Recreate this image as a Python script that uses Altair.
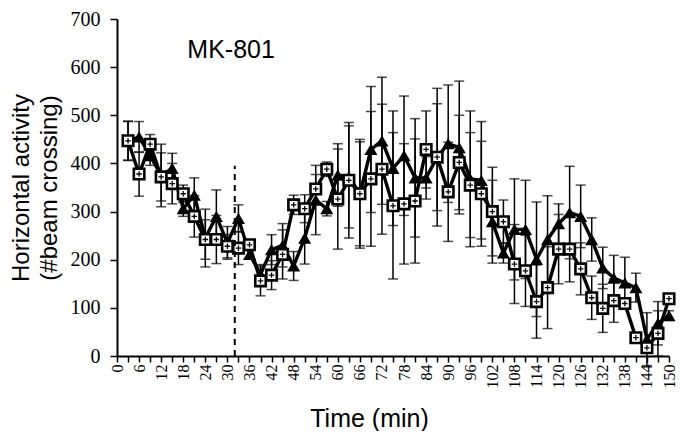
import altair as alt
import pandas as pd

times = list(range(3, 151, 3))
tri = [447, 455, 416, 375, 390, 306, 334, 245, 290, 235,
       286, 211, 170, 221, 230, 187, 245, 324, 306, 376,
       372, 337, 429, 447, 390, 416, 370, 370, 413, 441,
       433, 368, 365, 279, 214, 263, 263, 201, 242, 275,
       298, 290, 242, 183, 162, 152, 142, 35, 68, 84]
tri_err = [40, 32, 20, 65, 31, 16, 36, 60, 55, 34,
           28, 10, 20, 31, 45, 30, 54, 72, 15, 65,
           106, 108, 131, 132, 119, 124, 123, 44, 143, 122,
           138, 141, 122, 86, 21, 105, 102, 119, 91, 41,
           96, 65, 45, 43, 47, 53, 30, 55, 45, 10]
sq = [447, 378, 440, 372, 358, 337, 290, 242, 242, 228,
      224, 231, 156, 168, 211, 314, 306, 347, 388, 326,
      365, 337, 368, 388, 312, 316, 322, 429, 413, 341,
      402, 355, 337, 300, 279, 191, 177, 113, 142, 222,
      222, 181, 121, 99, 115, 109, 38, 17, 47, 119]
sq_err = [41, 46, 20, 50, 42, 18, 43, 41, 50, 24,
          34, 10, 31, 30, 51, 20, 29, 30, 15, 104,
          120, 113, 140, 135, 152, 125, 129, 80, 111, 103,
          98, 109, 109, 92, 45, 82, 74, 76, 85, 72,
          68, 54, 45, 50, 45, 10, 10, 10, 47, 10]
x_ticks = list(range(0, 151, 3))
y_ticks = list(range(0, 701, 100))
event_time = [32]
event_top = [395]
event_label = ["MK-801"]
label_time = [31]
label_value = [635]

rows = []
for name, vals, errs in (("tri", tri, tri_err), ("sq", sq, sq_err)):
    for t, v, e in zip(times, vals, errs):
        rows.append({"series": name, "t": t, "v": v, "lo": v - e, "hi": v + e,
                     "y0": None, "y1": None, "txt": None})
rows.append({"series": "event", "t": event_time[0], "v": None, "lo": None, "hi": None,
             "y0": 0, "y1": event_top[0], "txt": None})
rows.append({"series": "label", "t": label_time[0], "v": label_value[0], "lo": None,
             "hi": None, "y0": None, "y1": None, "txt": event_label[0]})
df = pd.DataFrame(rows)

xscale = alt.Scale(domain=[0, 150], nice=False, zero=False)
yscale = alt.Scale(domain=[0, 700], nice=False)

xaxis = alt.Axis(values=x_ticks, labelExpr="datum.value % 6 == 0 ? datum.label : ''",
                 labelAngle=270, labelFont="Liberation Serif", labelFontSize=16,
                 labelOverlap=False, labelPadding=2, labelColor="black",
                 title="Time (min)", titleFont="Liberation Sans", titleFontSize=25,
                 titleFontWeight="normal", titleColor="black",
                 titleX=252, titleY=50, titleBaseline="top", titleAlign="center",
                 grid=False, domainColor="black", domainWidth=2,
                 tickColor="black", tickWidth=1.5, tickSize=6)
yaxis = alt.Axis(values=y_ticks, labelFont="Liberation Serif", labelFontSize=20,
                 labelPadding=10, labelColor="black",
                 title=["Horizontal activity", "(#beam crossing)"],
                 titleFont="Liberation Sans", titleFontSize=24, titleFontWeight="normal",
                 titleColor="black", titlePadding=9, titleLineHeight=28,
                 grid=False, domainColor="black", domainWidth=2,
                 tickColor="black", tickWidth=1.5, tickSize=7)

X = alt.X("t:Q", scale=xscale, axis=xaxis)

def Y(field):
    return alt.Y(field, scale=yscale, axis=yaxis)

base = alt.Chart(df)
data_sel = "datum.series == 'tri' || datum.series == 'sq'"

err_rule = base.transform_filter(data_sel).mark_rule(color="black", strokeWidth=1.5).encode(
    x=X, y=Y("lo:Q"), y2="hi:Q")
cap_hi = base.transform_filter(data_sel).mark_tick(
    color="black", orient="horizontal", size=10, thickness=1.5).encode(x=X, y=Y("hi:Q"))
cap_lo = base.transform_filter(data_sel).mark_tick(
    color="black", orient="horizontal", size=10, thickness=1.5).encode(x=X, y=Y("lo:Q"))

lines = base.transform_filter(data_sel).mark_line(color="black", strokeWidth=3.4).encode(
    x=X, y=Y("v:Q"), detail="series:N")

tri_pts = base.transform_filter("datum.series == 'tri'").mark_point(
    shape="triangle-up", filled=True, color="black", size=170, opacity=1).encode(
    x=X, y=Y("v:Q"))
sq_pts = base.transform_filter("datum.series == 'sq'").mark_point(
    shape="square", filled=True, fill="white", stroke="black", strokeWidth=2.6,
    size=110, opacity=1).encode(x=X, y=Y("v:Q"))
sq_plus = base.transform_filter("datum.series == 'sq'").mark_point(
    shape="M-1,0L1,0M0,-1L0,1", filled=False, stroke="black", strokeWidth=1.3,
    size=30, opacity=1).encode(x=X, y=Y("v:Q"))

event = base.transform_filter("datum.series == 'event'").mark_rule(
    color="black", strokeWidth=2, strokeDash=[6, 5]).encode(
    x=X, y=Y("y0:Q"), y2="y1:Q")
label = base.transform_filter("datum.series == 'label'").mark_text(
    font="Liberation Sans", fontSize=25, color="black",
    align="center", baseline="middle").encode(x=X, y=Y("v:Q"), text="txt:N")

chart = alt.layer(err_rule, cap_hi, cap_lo, lines, tri_pts, sq_pts, sq_plus, event, label).properties(
    width=552, height=337,
    autosize=alt.AutoSizeParams(type="none"),
    padding={"left": 109, "top": 11, "right": 8, "bottom": 75},
).configure_view(stroke=None)

chart.save("out.html", embed_options={"renderer": "svg", "actions": False})
